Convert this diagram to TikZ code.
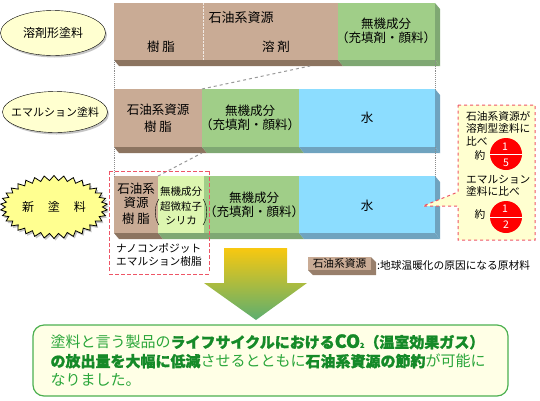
\documentclass[tikz,border=0pt]{standalone}
\usepackage{fontspec}
\setmainfont{Noto Sans CJK JP}[BoldFeatures={FakeBold=1.2}]
\usetikzlibrary{shapes.geometric,shapes.symbols,shadows}
\definecolor{brownc}{HTML}{C9AB95}
\definecolor{brownd}{HTML}{8C7460}
\definecolor{greenc}{HTML}{A0CE88}
\definecolor{greend}{HTML}{7FA873}
\definecolor{bluec}{HTML}{8CDDFF}
\definecolor{blued}{HTML}{6FA3BF}
\definecolor{palegreen}{HTML}{DDF6B0}
\definecolor{paleyellow}{HTML}{FFFFD0}
\definecolor{burstyellow}{HTML}{FFFF90}
\definecolor{dashred}{HTML}{EE5566}
\definecolor{msggreen}{HTML}{2AA63A}
\definecolor{msgdark}{HTML}{158A28}
\definecolor{msgedge}{HTML}{4CB050}
\definecolor{msgfill}{HTML}{FFFFE6}
\definecolor{arrowa}{HTML}{F8C810}
\definecolor{arrowb}{HTML}{C4BE30}
\definecolor{arrowc}{HTML}{5CAE70}
\tikzset{
  seg/.style={anchor=north west,inner sep=0pt,outer sep=0pt},
  lbl/.style={inner sep=0pt,font=\fontsize{12.5}{14}\selectfont,align=center},
  small/.style={inner sep=0pt,font=\fontsize{10.7}{12.5}\selectfont,align=left},
  kind/.style={ellipse,draw=black,fill=paleyellow,inner sep=0pt,minimum width=105pt,
    drop shadow={shadow xshift=1.5pt,shadow yshift=-2pt,fill=black!45}},
  link/.style={draw=black!45,densely dotted,line width=0.9pt},
  slant/.style={draw=black!40,dashed,line width=1pt},
  redbox/.style={draw=dashred,dashed,line width=1pt},
  frac/.style={circle,fill=red,minimum size=32pt,inner sep=0pt},
  num/.style={inner sep=0pt,text=white,font=\fontsize{10.5}{12}\selectfont}
}
\begin{document}
\begin{tikzpicture}[x=1pt,y=-1pt]
  \useasboundingbox (0,0) rectangle (540,400);
  % bottom and side faces of the bars
  \foreach \xa/\xb/\yb/\col in {114/338/60/brownd,338/435/60/greend,
      114/202/147/brownd,202/299/147/greend,299/435/147/blued,
      114/158/233/brownd,158/299/233/greend,299/435/233/blued}
    \fill[\col] (\xa,\yb) -- (\xb,\yb) -- (\xb+5,\yb+6) -- (\xa+5,\yb+6) -- cycle;
  \foreach \ya/\yb/\col in {3/60/greend,89/147/blued,176/233/blued}
    \fill[\col] (435,\ya) -- (440,\ya+6) -- (440,\yb+6) -- (435,\yb) -- cycle;

  % solvent paint
  \node[seg,fill=brownc,minimum width=224pt,minimum height=57pt] (a1) at (114,3) {};
  \node[seg,fill=greenc,minimum width=97pt,minimum height=57pt] (a2) at (338,3) {};
  \draw[white!75!brownc,densely dotted] (203,3) -- (203,60);
  % emulsion paint
  \node[seg,fill=brownc,minimum width=88pt,minimum height=58pt] (b1) at (114,89) {};
  \node[seg,fill=greenc,minimum width=97pt,minimum height=58pt] (b2) at (202,89) {};
  \node[seg,fill=bluec,minimum width=136pt,minimum height=58pt] (b3) at (299,89) {};
  % new paint
  \node[seg,fill=brownc,minimum width=44pt,minimum height=57pt] (c1) at (114,176) {};
  \node[seg,fill=palegreen,minimum width=46pt,minimum height=57pt] (c2) at (158,176) {};
  \node[seg,fill=greenc,minimum width=95pt,minimum height=57pt] (c3) at (204,176) {};
  \node[seg,fill=bluec,minimum width=136pt,minimum height=57pt] (c4) at (299,176) {};

  % links between the bars
  \coordinate (a3) at (310,66);
  \coordinate (b4) at (202,153);
  \draw[link] (a1.south west) -- (b1.north west);
  \draw[link] (a2.south east) -- (b3.north east);
  \draw[slant] (b2.north west) -- (a3);
  \draw[link] (b1.south west) -- (c1.north west);
  \draw[link] (b3.south east) -- (c4.north east);
  \draw[slant] (c2.north west) -- (b4);

  % paint kinds
  \node[kind,minimum height=45pt] (solvent) at (53,33) {};
  \node[inner sep=0pt,font=\fontsize{12}{14}\selectfont] at (solvent) {溶剤形塗料};
  \node[kind,minimum height=41pt] (emulsion) at (55,112) {};
  \node[inner sep=0pt,font=\fontsize{11}{13}\selectfont] at (emulsion) {エマルション塗料};
  \node[starburst,starburst points=34,starburst point height=5pt,random starburst=0,
    draw=black,line width=0.8pt,fill=burstyellow,inner sep=0pt,minimum width=107pt,minimum height=63pt,
    drop shadow={shadow xshift=1.5pt,shadow yshift=-2pt,fill=black!45}] (newpaint) at (54,207) {};
  \node[inner sep=0pt,font=\fontsize{12}{14}\selectfont] at (newpaint) {新\hspace{14pt}塗\hspace{14pt}料};

  % labels in the bars
  \node[lbl,font=\fontsize{13}{15}\selectfont] (a1t) at (241,18) {石油系資源};
  \node[lbl] at (161,47) {樹 脂};
  \node[lbl] at (276,47) {溶 剤};
  \node[lbl] at (386,31) {無機成分\\（充填剤・顔料）};
  \node[lbl] at (158,118) {石油系資源\\[3pt]樹 脂};
  \node[lbl] at (250,118) {無機成分\\（充填剤・顔料）};
  \node[lbl] at (367,118) {水};
  \node[lbl] at (136,204) {石油系\\資源\\[2pt]樹 脂};
  \node[inner sep=0pt,font=\fontsize{10.5}{14.5}\selectfont,align=center] at (181,206) {無機成分\\超微粒子\\シリカ};
  \draw (159,199) .. controls (154,206) and (154,218) .. (159,225);
  \draw (203,199) .. controls (208,206) and (208,218) .. (203,225);
  \node[lbl] at (254,205) {無機成分\\（充填剤・顔料）};
  \node[lbl] at (367,206) {水};
  \node[small,anchor=west,font=\fontsize{10.7}{13.3}\selectfont] at (116,255) {ナノコンポジット\\エマルション樹脂};

  % ratio note
  \filldraw[redbox,fill=paleyellow] (458,105) -- (535,105) -- (535,240) -- (458,240)
    -- (458,206) -- (423,206) -- (458,192) -- cycle;
  \node[small,anchor=north west] at (466,111) {石油系資源が\\溶剤型塗料に\\比べ};
  \node[small] at (480,155) {約};
  \node[frac] (f1) at (506,154) {};
  \draw[white] (f1.west) -- (f1.east);
  \node[num] at (505,147) {1};
  \node[num] at (506,163) {5};
  \node[small,anchor=north west] at (466,175) {エマルション\\塗料に比べ};
  \node[small] at (480,214) {約};
  \node[frac] (f2) at (506,217) {};
  \draw[white] (f2.west) -- (f2.east);
  \node[num] at (505,209) {1};
  \node[num] at (506,225) {2};

  % composite resin frame
  \foreach \x in {109,115,...,205} {
    \fill[dashred] (\x,170.5) rectangle (\x+4,171.5);
    \fill[dashred] (\x,273.5) rectangle (\x+4,274.5);
  }
  \foreach \y in {171,177,...,271} {
    \fill[dashred] (108.5,\y) rectangle (109.5,\y+4);
    \fill[dashred] (208.5,\y) rectangle (209.5,\y+4);
  }

  % legend
  \fill[brownd!80!brownc] (308,270) -- (371,270) -- (371,257) -- (376,262) -- (376,275) -- (313,275) -- cycle;
  \node[seg,fill=brownc,minimum width=63pt,minimum height=13pt,
    font=\fontsize{10.7}{12}\selectfont] (key) at (308,257) {石油系資源};
  \node[small,anchor=west] at (377,265) {:地球温暖化の原因になる原材料};

  % result arrow
  \shade[top color=arrowa,middle color=arrowb,bottom color=arrowc]
    (224,248) -- (287,248) -- (287,283) -- (307,283) -- (256,320) -- (204,283) -- (224,283) -- cycle;

  % result message
  \node[draw=msgedge,line width=1.2pt,fill=msgfill,rounded corners=11pt,minimum width=475pt,
    minimum height=71pt,text width=440pt,align=left,text=msggreen,inner sep=0pt,
    font=\fontsize{15}{19}\selectfont] (msg) at (270.5,360.5)
    {塗料と言う製品の\textcolor{msgdark}{\bfseries ライフサイクルにおける{\fontsize{18}{19}\selectfont CO}{\fontsize{7}{8}\selectfont 2}（温室効果ガス）}\\
     \textcolor{msgdark}{\bfseries の放出量を大幅に低減}させるとともに\textcolor{msgdark}{\bfseries 石油系資源の節約}が可能に\\
     なりました。};
\end{tikzpicture}
\end{document}
